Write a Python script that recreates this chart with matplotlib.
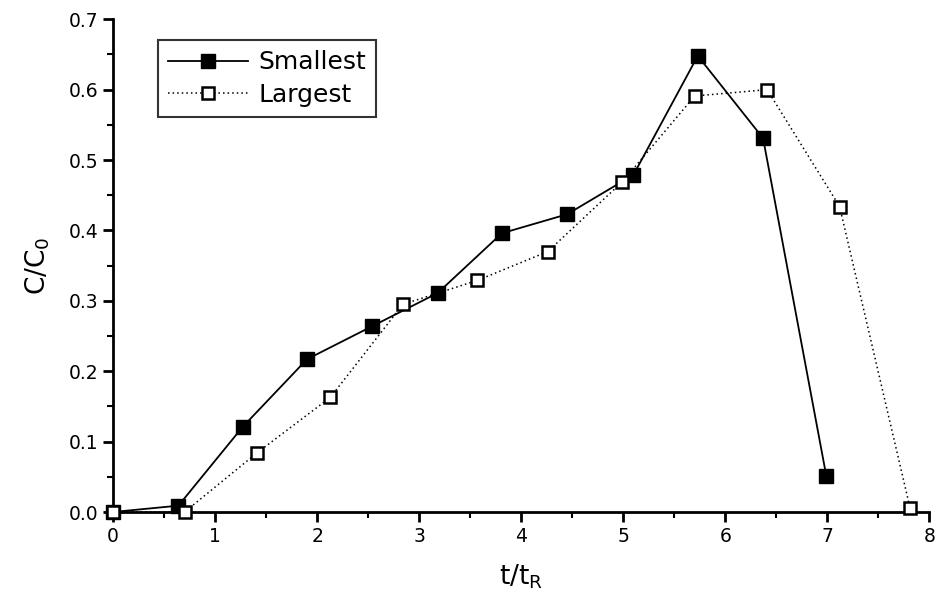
import matplotlib
matplotlib.use("Agg")
import matplotlib.pyplot as plt
from matplotlib.ticker import MultipleLocator

# data
x_small = [0.0, 0.64, 1.27, 1.90, 2.54, 3.18, 3.81, 4.45, 5.10, 5.73, 6.37, 6.99]
y_small = [0.0, 0.009, 0.121, 0.217, 0.264, 0.311, 0.396, 0.423, 0.479, 0.648, 0.531, 0.051]

x_large = [0.0, 0.70, 1.41, 2.13, 2.84, 3.57, 4.26, 4.99, 5.70, 6.41, 7.12, 7.81]
y_large = [0.0, 0.0, 0.084, 0.163, 0.295, 0.329, 0.370, 0.469, 0.591, 0.600, 0.434, 0.006]

fig = plt.figure(figsize=(9.35, 6.02), dpi=100)
ax = fig.add_axes([0.121, 0.1495, 0.873, 0.8185])

ax.plot(x_small, y_small, color="black", linestyle="-", linewidth=1.3,
        marker="s", markersize=10, markerfacecolor="black", markeredgecolor="black",
        label="Smallest", clip_on=False, zorder=3)
ax.plot(x_large, y_large, color="black", linestyle=(0, (1, 2)), linewidth=1.1,
        marker="s", markersize=9, markerfacecolor="white", markeredgecolor="black",
        markeredgewidth=1.8, label="Largest", clip_on=False, zorder=4)

ax.set_xlim(0, 8)
ax.set_ylim(0, 0.7)
ax.xaxis.set_major_locator(MultipleLocator(1))
ax.xaxis.set_minor_locator(MultipleLocator(0.5))
ax.yaxis.set_major_locator(MultipleLocator(0.1))
ax.yaxis.set_minor_locator(MultipleLocator(0.05))
ax.yaxis.set_major_formatter(plt.FuncFormatter(lambda v, p: "%.1f" % v))

for side in ["top", "right"]:
    ax.spines[side].set_visible(False)
for side in ["left", "bottom"]:
    ax.spines[side].set_linewidth(2)

ax.tick_params(which="major", direction="out", length=7, width=2, labelsize=13.5)
ax.tick_params(which="minor", direction="out", length=4, width=1.5)

ax.set_xlabel("t/t$_\\mathregular{R}$", fontsize=19, labelpad=12)
ax.set_ylabel("C/C$_\\mathregular{0}$", fontsize=19, labelpad=12)

leg = ax.legend(loc="upper left", bbox_to_anchor=(0.055, 0.957), borderaxespad=0,
                fontsize=18, frameon=True, fancybox=False, edgecolor="black",
                handlelength=3.2, borderpad=0.4, labelspacing=0.35, handletextpad=0.4)
leg.get_frame().set_linewidth(1.5)

fig.savefig("out.png", dpi=100)
